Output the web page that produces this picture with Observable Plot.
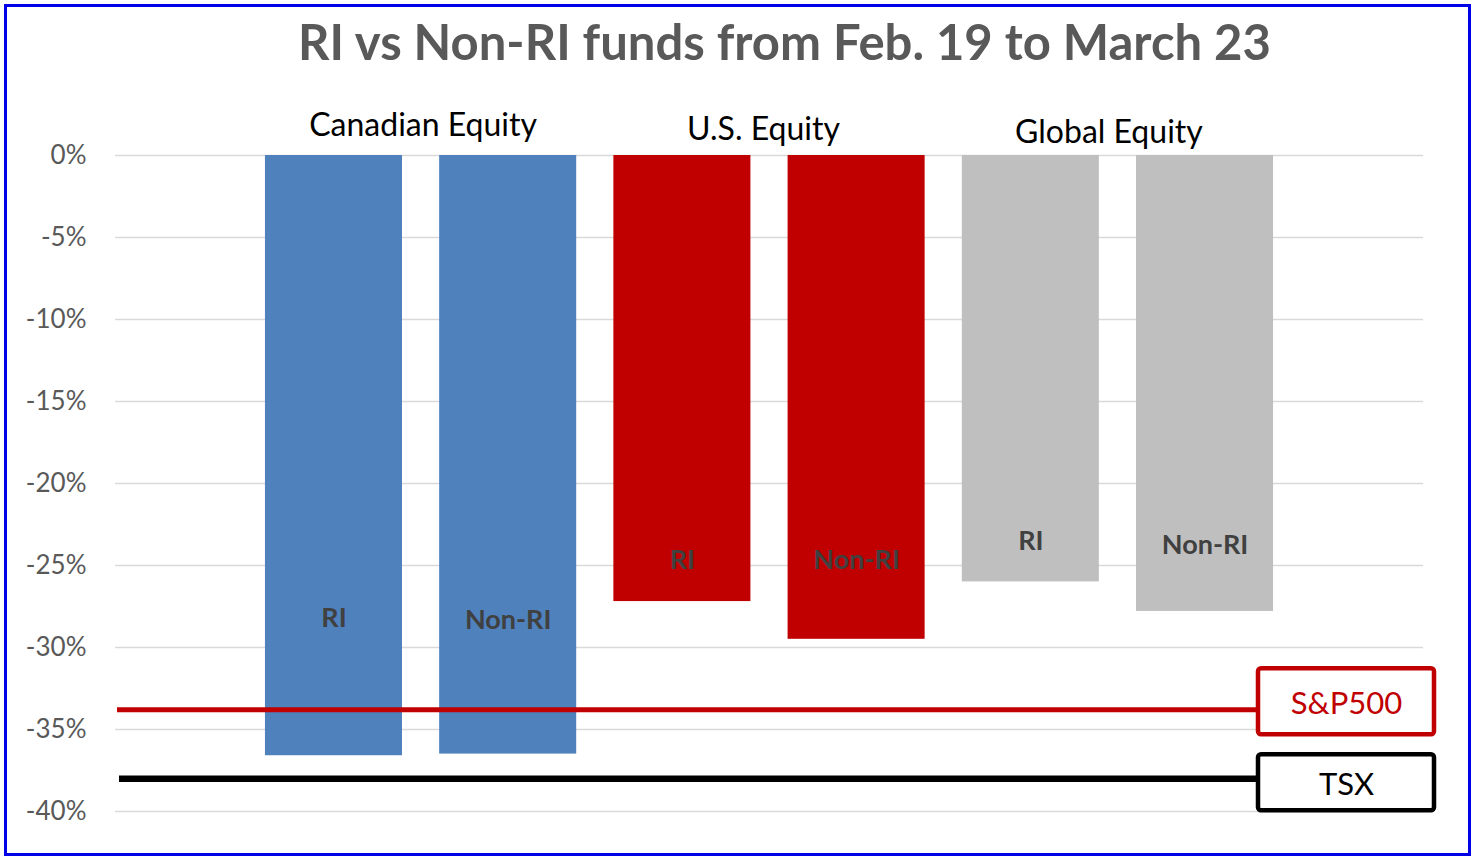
<!DOCTYPE html>
<html><head><meta charset="utf-8">
<script src="https://cdn.jsdelivr.net/npm/d3@7"></script>
<script src="https://cdn.jsdelivr.net/npm/@observablehq/plot@0.6"></script>
<style>
body{margin:0;background:#fff;}
#page{position:relative;width:1477px;height:863px;background:#fff;overflow:hidden;}
#title{height:100px;box-sizing:border-box;padding-top:12px;padding-left:92px;text-align:center;font-family:Lato,"Open Sans",sans-serif;font-weight:bold;font-size:49px;line-height:1.2;color:#595959;white-space:nowrap;}
#border{position:absolute;left:4px;top:4px;width:1467px;height:852px;border:3px solid #0000E6;box-sizing:border-box;pointer-events:none;}
#chart svg{display:block;}
</style></head><body>
<div id="page">
  <div id="title">RI vs Non-RI funds from Feb. 19 to March 23</div>
  <div id="chart"></div>
  <div id="border"></div>
</div>
<script>
// ---- data ----
const groups = ["Canadian Equity", "U.S. Equity", "Global Equity"];
const fundTypes = ["RI", "Non-RI"];
const riValues = [-36.6, -27.2, -26.0];
const nonRiValues = [-36.5, -29.5, -27.8];
const riLabelAt = [-28.2, -24.7, -23.5];
const nonRiLabelAt = [-28.35, -24.7, -23.8];
const benchmarkNames = ["S&P500", "TSX"];
const benchmarkValues = [-33.8, -38.0];
const yTicks = [0, -5, -10, -15, -20, -25, -30, -35, -40];

// ---- styles ----
const groupColors = ["#4F81BD", "#C00000", "#BFBFBF"];
const benchColors = ["#C00000", "#000000"];
const benchWidths = [5, 6.5];
const benchBoxDy = [-8, 4];          // box centre relative to its line (px)
const groupLabelDx = [2, -6, -9];    // px nudges of the group titles
const groupLabelDy = [-20, -16, -13];
const font = "Lato, 'Open Sans', sans-serif";

// ---- table built from the arrays ----
const bars = [];
groups.forEach((g, gi) => {
  fundTypes.forEach((t, ti) => {
    bars.push({
      group: g, type: t, pos: gi * 2 + ti,
      value: ti === 0 ? riValues[gi] : nonRiValues[gi],
      labelAt: ti === 0 ? riLabelAt[gi] : nonRiLabelAt[gi],
      color: groupColors[gi]
    });
  });
});
const groupRows = groups.map((g, gi) => ({group: g, pos: gi * 2 + 0.5, gi}));
const benchmarks = benchmarkNames.map((n, i) => ({name: n, value: benchmarkValues[i], color: benchColors[i], i}));

const W = 1477, H = 763, mL = 115, mR = 54, mT = 55, mB = 52;
const half = 0.3933;

const chart = Plot.plot({
  width: W, height: H,
  marginLeft: mL, marginRight: mR, marginTop: mT, marginBottom: mB,
  style: {fontFamily: font, background: "white", overflow: "visible"},
  x: {domain: [-1.254, 6.254], axis: null},
  y: {domain: [-40, 0], axis: null},
  marks: [
    Plot.ruleY(yTicks, {stroke: "#D9D9D9", strokeWidth: 1.5}),
    Plot.axisY({ticks: yTicks, tickSize: 0, tickPadding: 29, tickFormat: d => d + "%", fontSize: 26, fill: "#595959", label: null}),
    Plot.rectY(bars, {x1: d => d.pos - half, x2: d => d.pos + half, y: "value", fill: "color"}),
    Plot.text(bars, {x: "pos", y: "labelAt", text: "type", fontSize: 27, fontWeight: "bold", fill: "#404040", lineAnchor: "middle"}),
    ...groupRows.map(r => Plot.text([r], {x: "pos", y: () => 0, text: "group", fontSize: 32, fill: "#000", lineAnchor: "bottom", dx: groupLabelDx[r.gi], dy: groupLabelDy[r.gi]})),
    ...benchmarks.map(b => Plot.ruleY([b], {y: "value", stroke: "color", strokeWidth: benchWidths[b.i], insetLeft: 2 + b.i * 2})),
    Plot.text(benchmarks, {y: "value", text: "name", fill: "color", frameAnchor: "right", textAnchor: "middle", dx: -77, fontSize: 31, lineAnchor: "middle"})
  ]
});
document.getElementById("chart").appendChild(chart);

// boxes around the benchmark labels, positioned from the y scale
const yS = chart.scale("y");
const svg = d3.select(chart);
const boxW = 176, boxH = [66, 56];
const textGroups = svg.selectAll("g[aria-label='text']").nodes();
const benchText = textGroups[textGroups.length - 1];
const boxG = svg.append("g");
benchmarks.forEach((b, i) => {
  const cy = yS.apply(b.value) + benchBoxDy[i];
  boxG.append("rect")
    .attr("x", W - mR - 165).attr("y", cy - boxH[i] / 2)
    .attr("width", boxW).attr("height", boxH[i])
    .attr("rx", 3).attr("fill", "white")
    .attr("stroke", b.color).attr("stroke-width", 4.5);
});
// text on top of the boxes, centred in them
chart.appendChild(benchText);
d3.select(benchText).selectAll("text").each(function(d, k) {
  const t = d3.select(this);
  t.attr("dy", null);
  t.attr("y", benchBoxDy[k]).attr("dominant-baseline", "central");
});
</script>
</body></html>
